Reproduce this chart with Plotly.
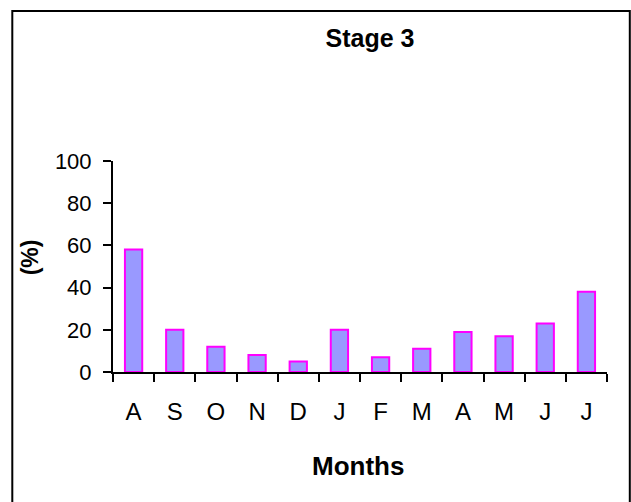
import plotly.graph_objects as go

months = ["A", "S", "O", "N", "D", "J", "F", "M", "A", "M", "J", "J"]
values = [58, 20, 12, 8, 5, 20, 7, 11, 19, 17, 23, 38]
y_ticks = [0, 20, 40, 60, 80, 100]

W, H = 631, 502
L, R, T, B = 112.7, 606.7, 161, 372
pw, ph = R - L, B - T

def px(x):
    return (x - L) / pw

def py(y):
    return (B - y) / ph

FONT = "Liberation Sans, Arial, sans-serif"
n = len(months)
idx = list(range(n))
bounds = [i - 0.5 for i in range(n + 1)]

fig = go.Figure()
fig.add_trace(go.Bar(
    x=idx,
    y=values,
    marker=dict(color="#9999FF", line=dict(color="#FF00FF", width=2)),
    hoverinfo="skip",
))

fig.update_layout(
    width=W, height=H,
    margin=dict(l=L, r=W - R, t=T, b=H - B, pad=0),
    paper_bgcolor="white", plot_bgcolor="white",
    showlegend=False,
    bargap=0.58,
    font=dict(family=FONT, color="black", size=22),
    title=dict(text="<b>Stage 3</b>", x=370 / W, xanchor="center",
               y=1 - 38 / H, yanchor="middle", xref="container", yref="container",
               font=dict(family=FONT, size=25, color="black")),
    xaxis=dict(
        tickmode="array", tickvals=idx, ticktext=months,
        range=[-0.5, n - 0.5],
        showline=True, linecolor="black", linewidth=2,
        ticks="", showgrid=False, zeroline=False,
        minor=dict(tickmode="array", tickvals=bounds, ticks="outside",
                   ticklen=8, tickwidth=2, tickcolor="black", showgrid=False),
        tickfont=dict(size=24), ticklabelstandoff=17,
    ),
    yaxis=dict(
        range=[0, 100], tickvals=y_ticks,
        showline=True, linecolor="black", linewidth=2,
        ticks="outside", ticklen=8, tickwidth=2, tickcolor="black",
        showgrid=False, zeroline=False,
        tickfont=dict(size=22), ticklabelstandoff=7,
    ),
    annotations=[
        dict(text="<b>Months</b>", xref="paper", yref="paper",
             x=px(358), y=py(466), xanchor="center", yanchor="middle",
             showarrow=False, font=dict(family=FONT, size=26, color="black")),
        dict(text="<b>(%)</b>", xref="paper", yref="paper",
             x=px(30), y=py(257), xanchor="center", yanchor="middle",
             textangle=-90, showarrow=False,
             font=dict(family=FONT, size=23, color="black")),
    ],
    shapes=[
        dict(type="rect", xref="paper", yref="paper",
             x0=px(12), x1=px(629.5), y0=py(11), y1=py(520),
             line=dict(color="black", width=2), fillcolor="rgba(0,0,0,0)",
             layer="above"),
    ],
)

fig.write_html(
    "out.html",
    config={"displayModeBar": False},
    post_script="document.body.style.margin='0';document.body.style.overflow='hidden';",
)
